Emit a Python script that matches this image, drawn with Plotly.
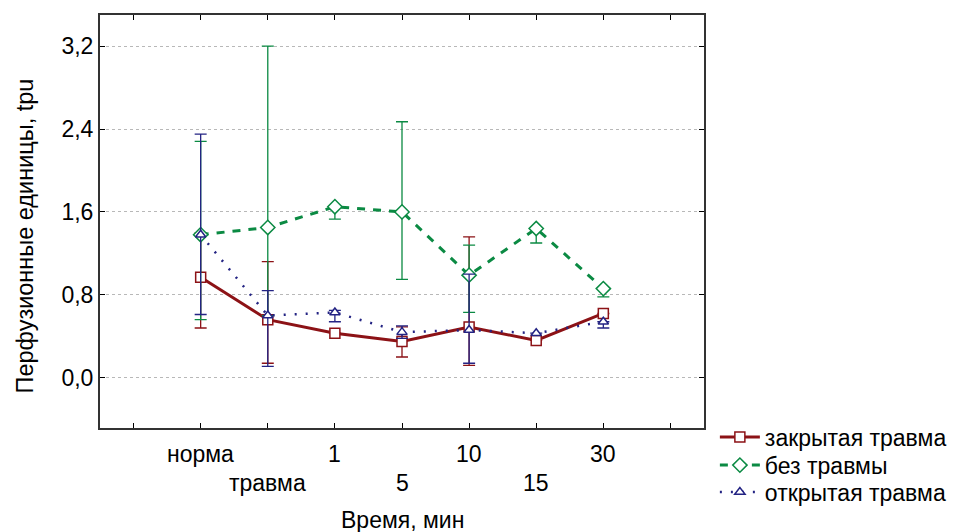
import plotly.graph_objects as go

# Time points (two-row tick labels along the x axis)
categories = ["норма", "травма", "1", "5", "10", "15", "30"]
label_row = [0, 1, 0, 1, 0, 1, 0]

# Perfusion units: mean, upper and lower bound of each error bar
closed_mean = [0.97, 0.56, 0.43, 0.35, 0.49, 0.36, 0.62]
closed_hi = [1.40, 1.12, None, 0.49, 1.36, None, None]
closed_lo = [0.48, 0.14, None, 0.20, 0.12, None, None]

intact_mean = [1.38, 1.45, 1.65, 1.60, 0.99, 1.44, 0.86]
intact_hi = [2.28, 3.20, 1.65, 2.47, 1.28, 1.44, 0.86]
intact_lo = [0.56, 0.60, 1.53, 0.95, 0.63, 1.30, 0.78]

open_mean = [1.38, 0.60, 0.63, 0.44, 0.46, 0.43, 0.54]
open_hi = [2.35, 0.84, 0.65, 0.50, 1.00, None, 0.54]
open_lo = [0.61, 0.11, 0.54, 0.38, 0.14, None, 0.48]

y_ticks = [0.0, 0.8, 1.6, 2.4, 3.2]
y_tick_text = ["0,0", "0,8", "1,6", "2,4", "3,2"]

x_pos = list(range(1, len(categories) + 1))
FONT = "Liberation Sans, Arial, sans-serif"
FS = 23


def err(mean, hi, lo):
    plus = [None if h is None else round(h - m, 4) for m, h in zip(mean, hi)]
    minus = [None if l is None else round(m - l, 4) for m, l in zip(mean, lo)]
    return plus, minus


# name, values, colour, dash, width, marker, marker size, legend slot
series = [
    ("закрытая травма", closed_mean, closed_hi, closed_lo, "#8c1216", "solid", 3, "square", 10, "legend"),
    ("без травмы", intact_mean, intact_hi, intact_lo, "#0b8a43", "8px,8px", 3, "diamond", 11, "legend2"),
    ("открытая травма", open_mean, open_hi, open_lo, "#232383", "2px,9px", 2.5, "triangle-up", 9, "legend3"),
]

fig = go.Figure()
for name, mean, hi, lo, color, dash, lw, sym, msize, leg in series:
    plus, minus = err(mean, hi, lo)
    fig.add_trace(go.Scatter(
        x=x_pos, y=mean, name=name, mode="lines+markers", legend=leg,
        line=dict(color=color, width=lw, dash=dash),
        marker=dict(symbol=sym, size=msize, color="white",
                    line=dict(color=color, width=1.5)),
        error_y=dict(type="data", symmetric=False, array=plus, arrayminus=minus,
                     color=color, thickness=1.3, width=6),
    ))

# Two-row category labels under the axis
for xp, lab, row in zip(x_pos, categories, label_row):
    fig.add_annotation(x=xp, y=-0.064 - row * 0.068, xref="x", yref="paper",
                       text=lab, showarrow=False, yanchor="middle",
                       font=dict(family=FONT, size=FS, color="black"))

fig.add_annotation(x=0.5, y=-0.222, xref="paper", yref="paper",
                   text="Время, мин", showarrow=False, yanchor="middle",
                   font=dict(family=FONT, size=FS, color="black"))

fig.add_annotation(x=-0.124, y=0.464, xref="paper", yref="paper",
                   text="Перфузионные единицы, tpu", textangle=-90,
                   showarrow=False, xanchor="center", yanchor="middle",
                   font=dict(family=FONT, size=23.5, color="black"))

legend_style = dict(x=1.018, xanchor="left", yanchor="middle",
                    font=dict(family=FONT, size=FS, color="black"),
                    bgcolor="rgba(0,0,0,0)", itemwidth=40)

fig.update_layout(
    width=955, height=532,
    margin=dict(l=100, r=251, t=15, b=104, autoexpand=False),
    paper_bgcolor="white", plot_bgcolor="white",
    font=dict(family=FONT, size=FS, color="black"),
    showlegend=True,
    legend=dict(y=-0.022, **legend_style),
    legend2=dict(y=-0.090, **legend_style),
    legend3=dict(y=-0.155, **legend_style),
    xaxis=dict(range=[-0.5, 8.5], tickvals=list(range(0, 9)),
               ticktext=[""] * 9, ticks="inside", ticklen=5, tickcolor="black",
               showline=True, linecolor="#333333", linewidth=2, mirror="ticks",
               showgrid=False, zeroline=False, automargin=False),
    yaxis=dict(range=[-0.485, 3.5], tickvals=y_ticks, ticktext=y_tick_text,
               ticks="inside", ticklen=5, tickcolor="black",
               showline=True, linecolor="#333333", linewidth=2, mirror="ticks",
               showgrid=True, gridcolor="#b8b8b8", gridwidth=1, griddash="dot",
               zeroline=False, automargin=False),
)

fig.write_html("out.html")
